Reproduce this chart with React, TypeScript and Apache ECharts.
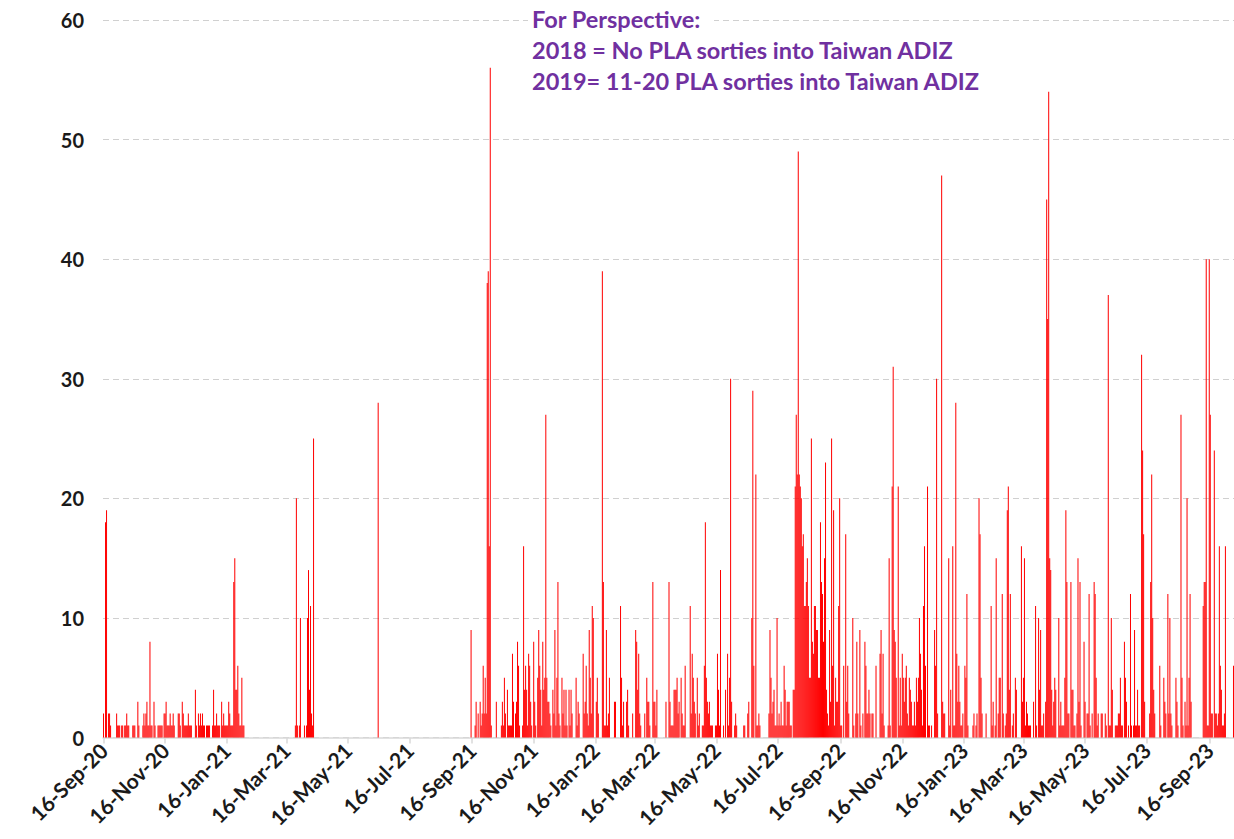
import React, { useEffect, useRef } from "react";
import * as echarts from "echarts";

// Daily PLA aircraft entering Taiwan ADIZ, starting 16-Sep-2020
const sep20 = [2,0,18,19,0,2,2,1,0,0,0,0,0,2,1];
const oct20 = [1,1,0,1,1,0,1,1,2,1,1,0,0,0,1,1,1,0,0,3,1,0,0,0,1,2,1,2,3,1,1];
const nov20 = [8,1,1,0,3,1,0,0,1,1,1,1,1,0,2,2,3,1,1,1,2,1,1,2,1,0,0,0,2,2];
const dec20 = [1,0,3,2,1,1,1,1,2,1,1,1,0,0,0,4,1,0,2,1,2,1,2,1,1,0,1,1,1,1,0];
const jan21 = [0,1,4,1,1,2,1,1,1,0,3,1,2,1,1,1,1,3,2,1,1,1,13,15,4,4,6,2,1,1,5];
const feb21 = [1,1,0,0,0,0,0,0,0,0,0,0,0,0,0,0,0,0,0,0,0,0,0,0,0,0,0,0];
const mar21 = [0,0,0,0,0,0,0,0,0,0,0,0,0,0,0,0,0,0,0,0,0,0,0,0,1,20,1,0,1,10,0];
const apr21 = [0,0,1,0,1,10,14,4,11,2,1,25,0,0,0,0,0,0,0,0,0,0,0,0,0,0,0,0,0,0];
const may21 = [0,0,0,0,0,0,0,0,0,0,0,0,0,0,0,0,0,0,0,0,0,0,0,0,0,0,0,0,0,0,0];
const jun21 = [0,0,0,0,0,0,0,0,0,0,0,0,0,0,28,0,0,0,0,0,0,0,0,0,0,0,0,0,0,0];
const jul21 = [0,0,0,0,0,0,0,0,0,0,0,0,0,0,0,0,0,0,0,0,0,0,0,0,0,0,0,0,0,0,0];
const aug21 = [0,0,0,0,0,0,0,0,0,0,0,0,0,0,0,0,0,0,0,0,0,0,0,0,0,0,0,0,0,0,0];
const sep21 = [0,0,0,0,0,0,0,0,0,0,0,0,0,0,9,0,0,0,1,3,0,2,0,3,1,2,6,2,5,2];
const oct21 = [38,39,16,56,1,0,0,0,0,3,0,0,0,0,1,3,1,5,2,0,4,1,1,1,1,7,3,0,2,3,8];
const nov21 = [6,1,0,0,1,16,4,6,4,1,7,6,3,1,0,8,3,1,0,5,9,6,4,1,8,4,5,27,5,3];
const dec21 = [3,2,1,0,4,2,9,1,5,13,2,1,0,5,2,4,1,4,1,0,4,1,4,2,0,0,0,5,1,3,2];
const jan22 = [0,0,0,7,2,3,6,2,1,9,5,2,11,10,0,0,3,5,2,0,0,0,39,13,1,1,9,1,2,5,0];
const feb22 = [0,0,0,3,3,0,0,0,0,11,5,1,3,0,0,3,4,1,0,0,0,2,0,0,9,8,4,7];
const mar22 = [2,1,0,0,0,2,0,5,3,3,1,0,0,13,3,3,1,4,0,0,0,0,0,0,0,0,3,0,0,13,3];
const apr22 = [1,1,1,4,4,4,5,2,3,0,5,2,1,1,6,0,0,0,0,11,2,7,5,3,2,0,5,1,2,0];
const may22 = [0,1,1,6,18,5,3,2,3,1,1,1,0,0,1,1,7,4,1,14,0,0,1,0,4,0,7,1,5,30,3];
const jun22 = [0,0,1,2,1,0,0,0,0,0,0,1,1,0,0,2,3,0,0,10,29,6,0,22,1,1,2,1,0,0];
const jul22 = [0,0,0,0,0,0,2,9,5,2,3,4,1,1,10,1,2,1,3,1,1,6,4,1,3,3,3,1,1,0,4];
const aug22 = [4,21,27,22,49,22,21,20,16,17,11,11,13,15,11,5,5,25,8,7,11,11,9,9,5,5,18,13,12,8,15];
const sep22 = [23,4,2,1,9,3,25,6,19,1,5,3,3,11,20,1,1,0,6,0,17,3,6,2,0,0,0,10,1,0];
const oct22 = [2,8,2,0,9,1,0,2,0,8,6,2,2,4,2,0,2,2,0,0,6,0,0,0,7,9,2,7,1,0,0];
const nov22 = [0,1,15,1,0,21,31,9,8,5,0,21,1,5,1,7,5,3,5,6,2,1,5,4,3,1,1,3,1,5];
const dec22 = [3,5,10,7,4,1,11,16,6,0,21,1,1,0,1,0,0,9,6,30,2,0,0,0,47,3,2,2,0,0,0];
const jan23 = [15,1,4,0,16,1,1,28,7,3,6,3,1,1,2,0,6,5,12,1,0,0,0,0,1,2,0,1,2,0,20];
const feb23 = [17,5,2,0,0,0,2,0,0,0,0,11,1,3,0,1,15,0,2,5,5,0,12,2,0,1,2,19];
const mar23 = [21,4,12,0,1,2,0,5,4,0,0,0,0,16,3,5,15,1,3,2,1,1,1,0,0,3,0,11,1,0,10];
const apr23 = [4,9,1,1,2,0,3,45,35,54,15,14,4,1,3,5,4,0,0,10,1,3,1,1,1,5,19,13,2,2];
const may23 = [0,13,4,4,1,1,0,2,15,3,13,1,0,0,8,3,0,2,2,12,1,0,2,0,13,12,5,1,2,0,0];
const jun23 = [2,2,0,0,2,1,0,37,1,1,10,4,0,0,1,1,1,2,2,5,1,1,0,8,5,3,0,1,0,12];
const jul23 = [1,0,1,9,1,1,4,1,1,0,32,24,17,3,0,0,0,0,2,13,22,10,4,2,0,0,0,0,6,1,0];
const aug23 = [0,5,3,2,0,12,2,10,2,1,0,0,0,5,3,1,0,0,27,5,1,0,3,1,20,1,5,12,3,0,0];
const sep23 = [0,0,0,0,0,0,0,0,0,11,13,13,40,1,1,40,27,2,2,0,24,2,2,1,2,16,6,4,1,1];
const oct23 = [2,16,0,0,0,0,0,0,0,6];

const yTicks = [0, 10, 20, 30, 40, 50, 60];
const annotation = [
  "For Perspective:",
  "2018 = No PLA sorties into Taiwan ADIZ",
  "2019= 11-20 PLA sorties into Taiwan ADIZ",
];

const values: number[] = [
  ...sep20, ...oct20, ...nov20, ...dec20, ...jan21, ...feb21, ...mar21, ...apr21,
  ...may21, ...jun21, ...jul21, ...aug21, ...sep21, ...oct21, ...nov21, ...dec21,
  ...jan22, ...feb22, ...mar22, ...apr22, ...may22, ...jun22, ...jul22, ...aug22,
  ...sep22, ...oct22, ...nov22, ...dec22, ...jan23, ...feb23, ...mar23, ...apr23,
  ...may23, ...jun23, ...jul23, ...aug23, ...sep23, ...oct23,
];

const MONTHS = ["Jan","Feb","Mar","Apr","May","Jun","Jul","Aug","Sep","Oct","Nov","Dec"];
const start = Date.UTC(2020, 8, 16);
const dateInfo = values.map((_, i) => {
  const d = new Date(start + i * 86400000);
  return { day: d.getUTCDate(), month: d.getUTCMonth(), year: d.getUTCFullYear() };
});
const categories = dateInfo.map(
  (o) => `${String(o.day).padStart(2, "0")}-${MONTHS[o.month]}-${String(o.year % 100).padStart(2, "0")}`
);
const isMajor = (idx: number) => {
  const o = dateInfo[idx];
  return !!o && o.day === 16 && o.month % 2 === 0;
};

const FONT = "Lato, 'Open Sans', sans-serif";

export default function App() {
  const ref = useRef<HTMLDivElement>(null);
  useEffect(() => {
    if (!ref.current) return;
    const chart = echarts.init(ref.current, undefined, { renderer: "svg" });
    chart.setOption({
      animation: false,
      backgroundColor: "#ffffff",
      grid: { left: 103, right: 0, top: 20, bottom: 101.5, containLabel: false },
      xAxis: {
        type: "category",
        data: categories,
        boundaryGap: true,
        axisLine: { lineStyle: { color: "#d9d9d9", width: 1.5 } },
        axisTick: {
          show: true,
          alignWithLabel: true,
          interval: (i: number) => isMajor(i),
          length: 6,
          lineStyle: { color: "#d9d9d9", width: 1.5 },
        },
        axisLabel: {
          interval: (i: number) => isMajor(i),
          rotate: 45,
          margin: 9,
          color: "#1a1a1a",
          fontFamily: FONT,
          fontWeight: "bold",
          fontSize: 21,
        },
        splitLine: { show: false },
      },
      yAxis: {
        type: "value",
        min: yTicks[0],
        max: yTicks[yTicks.length - 1],
        interval: 10,
        axisLine: { show: false },
        axisTick: { show: false },
        axisLabel: {
          margin: 19,
          color: "#1a1a1a",
          fontFamily: FONT,
          fontWeight: "bold",
          fontSize: 20,
        },
        splitLine: { lineStyle: { color: "#d0d0d0", type: [6, 4], width: 1.2 } },
      },
      series: [
        {
          type: "bar",
          data: values,
          barCategoryGap: "0%",
          itemStyle: { color: "#ff0000" },
          emphasis: { disabled: true },
        },
      ],
      graphic: [
        {
          type: "rect",
          shape: { x: 528, y: 6, width: 186, height: 26 },
          style: { fill: "#ffffff" },
          z: 100,
        },
        {
          type: "text",
          left: 532,
          top: 3,
          z: 101,
          style: {
            text: annotation.join("\n"),
            fill: "#7030A0",
            font: `bold 23.5px ${FONT}`,
            lineHeight: 31,
          },
        },
      ],
    });
    return () => chart.dispose();
  }, []);
  return (
    <div
      ref={ref}
      style={{ position: "absolute", left: 0, top: 0, width: 1234, height: 839, background: "#fff" }}
    />
  );
}
